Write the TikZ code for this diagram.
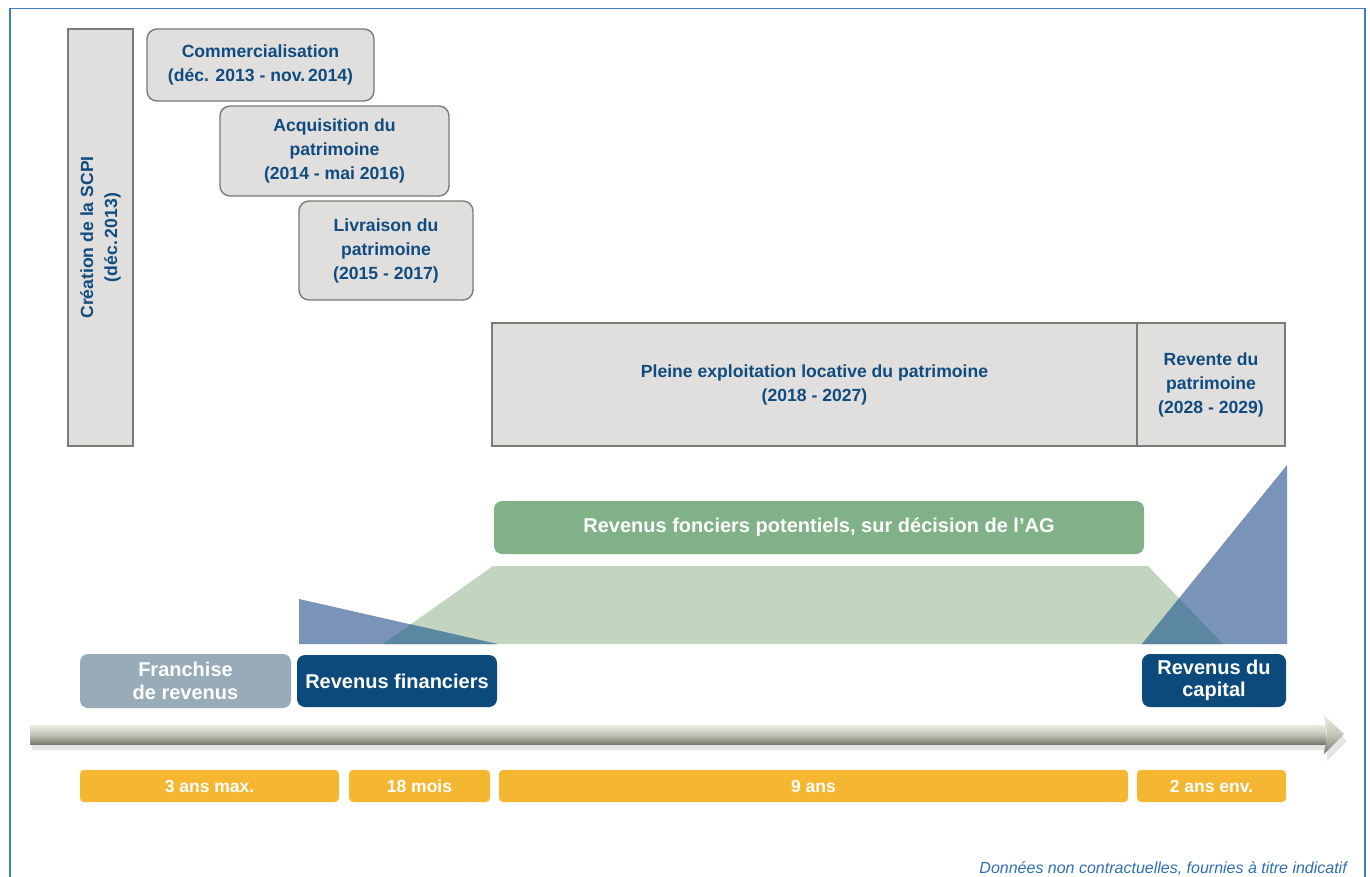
\documentclass[tikz,border=0pt]{standalone}
\usepackage{fontspec}
\setmainfont{Liberation Sans}
\definecolor{bxborder}{RGB}{125,121,116}
\definecolor{bxfill}{RGB}{224,223,222}
\definecolor{txtblue}{RGB}{16,76,128}
\definecolor{frameblue}{RGB}{63,124,192}
\definecolor{trapgreen}{RGB}{193,213,191}
\definecolor{triblue}{RGB}{122,147,184}
\definecolor{overlap}{RGB}{91,135,160}
\definecolor{boxgreen}{RGB}{128,177,135}
\definecolor{franchisegray}{RGB}{152,171,185}
\definecolor{darkblue}{RGB}{11,74,122}
\definecolor{barorange}{RGB}{245,183,49}
\definecolor{notecol}{RGB}{47,110,181}
\definecolor{arrtop}{RGB}{236,236,226}
\definecolor{arrmid}{RGB}{196,196,182}
\definecolor{arrbot}{RGB}{122,122,110}
\begin{document}
\begin{tikzpicture}[x=1pt,y=-1pt,
  graybox/.style={draw=bxborder, fill=bxfill,
    line width=1.4pt, rounded corners=10pt, align=center, text=txtblue,
    font=\bfseries\fontsize{17.6}{24}\selectfont, inner sep=0pt},
  sqbox/.style={graybox, rounded corners=0pt},
  whitebox/.style={rounded corners=8pt, align=center, text=white, inner sep=0pt,
    font=\bfseries\fontsize{20}{22.5}\selectfont},
  orangebar/.style={fill=barorange, rounded corners=4pt, text=white,
    inner sep=0pt, minimum height=32pt, text height=12.5pt, text depth=0pt,
    font=\bfseries\fontsize{17.5}{20}\selectfont},
]
\useasboundingbox (0,0) rectangle (1370,876);
% frame
\draw[line width=1.5pt, frameblue] (10,880) -- (10,8.5) -- (1365,8.5) -- (1365,880);

% top boxes
\node[sqbox, rotate=90, minimum width=417pt, minimum height=65pt] (creation) at (100.5,237.5)
  {Création de la SCPI\\(déc.\,2013)};
\node[graybox, minimum width=227pt, minimum height=72pt] (comm) at (260.5,65)
  {Commercialisation\\(déc. 2013 - nov.\,2014)};
\node[graybox, minimum width=229pt, minimum height=90pt] (acq) at (334.5,151)
  {Acquisition du\\patrimoine\\(2014 - mai 2016)};
\node[graybox, minimum width=174pt, minimum height=99pt] (livr) at (386,250.5)
  {Livraison du\\patrimoine\\(2015 - 2017)};
\node[sqbox, minimum width=645pt, minimum height=123pt] (pleine) at (814.5,384.5)
  {Pleine exploitation locative du patrimoine\\(2018 - 2027)};
\node[sqbox, minimum width=148pt, minimum height=123pt] (revente) at (1211,384.5)
  {Revente du\\patrimoine\\(2028 - 2029)};

% revenue shapes
\fill[trapgreen] (383,644) -- (493,566) -- (1148,566) -- (1223,644) -- cycle;
\fill[triblue] (299,599) -- (497,644) -- (299,644) -- cycle;
\fill[triblue] (1142,644) -- (1287,465) -- (1287,644) -- cycle;
\fill[overlap] (383,644) -- (410.7,624.4) -- (497,644) -- cycle;
\fill[overlap] (1142,644) -- (1179.1,598.3) -- (1223,644) -- cycle;

\node[whitebox, fill=boxgreen, minimum width=650pt, minimum height=53pt] (fonciers) at (819,527.5)
  {Revenus fonciers potentiels, sur décision de l’AG};

\node[whitebox, fill=franchisegray, minimum width=211pt, minimum height=54pt] (franchise) at (185.5,681)
  {Franchise\\de revenus};
\node[whitebox, fill=darkblue, minimum width=200pt, minimum height=52pt] (financiers) at (397,681)
  {Revenus financiers};
\node[whitebox, fill=darkblue, minimum width=144pt, minimum height=53pt] (capital) at (1214,680.5)
  {Revenus du\\capital};

% timeline arrow
\fill[black, opacity=0.10] (32,733) rectangle (1327,750);
\fill[black, opacity=0.10] (1327,722) -- (1347,741) -- (1327,761) -- cycle;
\shade[top color=arrtop, bottom color=arrbot, middle color=arrmid] (30,725) rectangle (1326,744);
\shade[top color=arrtop, bottom color=arrbot, middle color=arrmid]
  (1324,715) -- (1344,734) -- (1324,754) -- (1327,734) -- cycle;
\coordinate (tip) at (1344,734);

% duration bars
\node[orangebar, minimum width=259pt] (d1) at (209.5,786) {3 ans max.};
\node[orangebar, minimum width=141pt] (d2) at (419.5,786) {18 mois};
\node[orangebar, minimum width=629pt] (d3) at (813.5,786) {9 ans};
\node[orangebar, minimum width=149pt] (d4) at (1211.5,786) {2 ans env.};

\node[anchor=base east, inner sep=0pt, text=notecol,
  font=\itshape\fontsize{16}{18}\selectfont] (note) at (1347,873)
  {Données non contractuelles, fournies à titre indicatif};
\end{tikzpicture}
\end{document}
